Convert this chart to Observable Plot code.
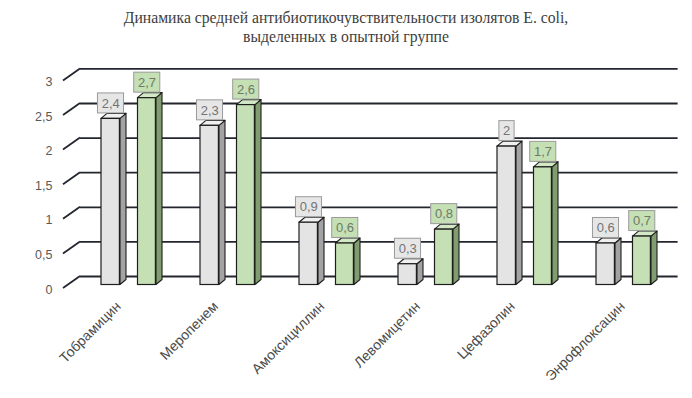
<!DOCTYPE html>
<html><head><meta charset="utf-8">
<script src="https://cdn.jsdelivr.net/npm/d3@7"></script>
<script src="https://cdn.jsdelivr.net/npm/@observablehq/plot@0.6"></script>
<style>
body{margin:0;background:#fff;}
#title{font-family:"Liberation Serif","Times New Roman",serif;font-size:15.7px;color:#404040;text-align:center;height:50px;line-height:19px;padding-top:8px;box-sizing:border-box;width:692px;}
</style></head><body>
<div id="title">Динамика средней антибиотикочувствительности изолятов E. coli,<br>выделенных в опытной группе</div>
<div id="chart"></div>
<script>
const categories = ["Тобрамицин","Меропенем","Амоксициллин","Левомицетин","Цефазолин","Энрофлоксацин"];
const seriesGray = [2.4, 2.3, 0.9, 0.3, 2.0, 0.6];
const seriesGreen = [2.7, 2.6, 0.6, 0.8, 1.7, 0.7];
const yTicks = [0, 0.5, 1, 1.5, 2, 2.5, 3];
const yTickLabels = ["0", "0,5", "1", "1,5", "2", "2,5", "3"];

const fmt = v => String(v).replace(".", ",");
const rowsGray = categories.map((c, i) => ({cat: c, value: seriesGray[i], label: fmt(seriesGray[i])}));
const rowsGreen = categories.map((c, i) => ({cat: c, value: seriesGreen[i], label: fmt(seriesGreen[i])}));

// style / geometry (pixels)
const W = 692, H = 348;
const BW = 99.6;
const depthX = 6, depthY = -5;      // bar 3D depth
const wallDy = -8.5;                // back wall offset
const diagDx = -17, diagDy = 12;    // floor-edge diagonal
const styles = {
  gray: {left: 19, width: 19, front: "#e4e4e4", side: "#a3a3a3", top: "#f0f0f0", box: "#e6e6e6"},
  green: {left: 55.5, width: 18.5, front: "#c5e0b4", side: "#819d70", top: "#d3e9c6", box: "#c5e0b4"}
};
const outline = "#1e1e1e";
const gridColor = "#23262f";
const sans = "'Liberation Sans', Arial, sans-serif";
const labelFont = "13px 'Liberation Sans', Arial, sans-serif";
const catFont = "14px 'Liberation Sans', Arial, sans-serif";

const ctx2d = document.createElement("canvas").getContext("2d");
const textW = (s, font) => { ctx2d.font = font; return ctx2d.measureText(s).width; };

function getArgs(args) {
  const scales = args.find(a => a && typeof a === "object" && typeof a.x === "function" && typeof a.y === "function");
  const dims = args.find(a => a && typeof a === "object" && typeof a.width === "number" && typeof a.marginLeft === "number");
  return {scales, dims};
}

function faces(...args) {
  const {scales, dims} = getArgs(args);
  const x = scales.x, y = scales.y;
  const g = d3.create("svg:g");
  const x0 = dims.marginLeft;
  for (const t of yTicks) {
    const yb = y(t) + wallDy;
    g.append("line").attr("x1", x0).attr("y1", yb).attr("x2", x0 + diagDx).attr("y2", yb + diagDy)
      .attr("stroke", gridColor).attr("stroke-width", 1.8);
  }
  for (const [rows, st] of [[rowsGray, styles.gray], [rowsGreen, styles.green]]) {
    for (const d of rows) {
      const xl = x(d.cat) + st.left, xr = xl + st.width;
      const yT = y(d.value), yB = y(0);
      g.append("polygon")
        .attr("points", [[xr, yB], [xr + depthX, yB + depthY], [xr + depthX, yT + depthY], [xr, yT]].join(" "))
        .attr("fill", st.side).attr("stroke", outline).attr("stroke-width", 1.1).attr("stroke-linejoin", "round");
      g.append("polygon")
        .attr("points", [[xl, yT], [xr, yT], [xr + depthX, yT + depthY], [xl + depthX, yT + depthY]].join(" "))
        .attr("fill", st.top).attr("stroke", outline).attr("stroke-width", 1.1).attr("stroke-linejoin", "round");
    }
  }
  return g.node();
}

function boxes(...args) {
  const {scales} = getArgs(args);
  const x = scales.x, y = scales.y;
  const g = d3.create("svg:g");
  for (const [rows, st] of [[rowsGray, styles.gray], [rowsGreen, styles.green]]) {
    for (const d of rows) {
      const cx = x(d.cat) + st.left + st.width / 2;
      const cy = y(d.value) - 15.5;
      const w = textW(d.label, labelFont) + 8, h = 20;
      g.append("rect").attr("x", cx - w / 2).attr("y", cy - h / 2).attr("width", w).attr("height", h)
        .attr("fill", st.box).attr("stroke", "#9a9a9a").attr("stroke-width", 1);
    }
  }
  return g.node();
}

const bandCenter = BW / 2;
const catMarks = categories.map(c => {
  const tw = textW(c, catFont);
  return Plot.text([c], {x: [c], y: [0], text: [c], dx: 8 + 0.354 * tw - bandCenter, dy: 19, rotate: -45, textAnchor: "end",
    fill: "#4a4a4a", fontFamily: sans, fontSize: 14});
});

const chart = Plot.plot({
  width: W,
  height: H,
  marginLeft: 80,
  marginRight: W - 80 - BW * categories.length,
  marginTop: 0,
  marginBottom: 0,
  style: {background: "white", overflow: "visible"},
  x: {type: "band", domain: categories, padding: 0, axis: null},
  y: {domain: [0, 3], range: [234.5, 234.5 - 69.2 * 3], axis: null},
  marks: [
    Plot.ruleY(yTicks, {y: d => d, dy: wallDy, stroke: gridColor, strokeWidth: 1.8}),
    faces,
    Plot.barY(rowsGray, {x: "cat", y1: () => 0, y2: "value", fill: styles.gray.front, stroke: outline, strokeWidth: 1.2,
      insetLeft: styles.gray.left, insetRight: BW - styles.gray.left - styles.gray.width}),
    Plot.barY(rowsGreen, {x: "cat", y1: () => 0, y2: "value", fill: styles.green.front, stroke: outline, strokeWidth: 1.2,
      insetLeft: styles.green.left, insetRight: BW - styles.green.left - styles.green.width}),
    boxes,
    Plot.text(rowsGray, {x: "cat", y: "value", text: "label", dx: styles.gray.left + styles.gray.width / 2 - bandCenter, dy: -15.5,
      fill: "#747474", fontFamily: sans, fontSize: 13}),
    Plot.text(rowsGreen, {x: "cat", y: "value", text: "label", dx: styles.green.left + styles.green.width / 2 - bandCenter, dy: -15.5,
      fill: "#6e7a68", fontFamily: sans, fontSize: 13}),
    Plot.text(yTicks, {y: yTicks, text: yTickLabels, frameAnchor: "left", dx: -28, dy: 4.5, textAnchor: "end",
      fill: "#595959", fontFamily: sans, fontSize: 12.5}),
    ...catMarks
  ]
});
document.getElementById("chart").appendChild(chart);
</script>
</body></html>
